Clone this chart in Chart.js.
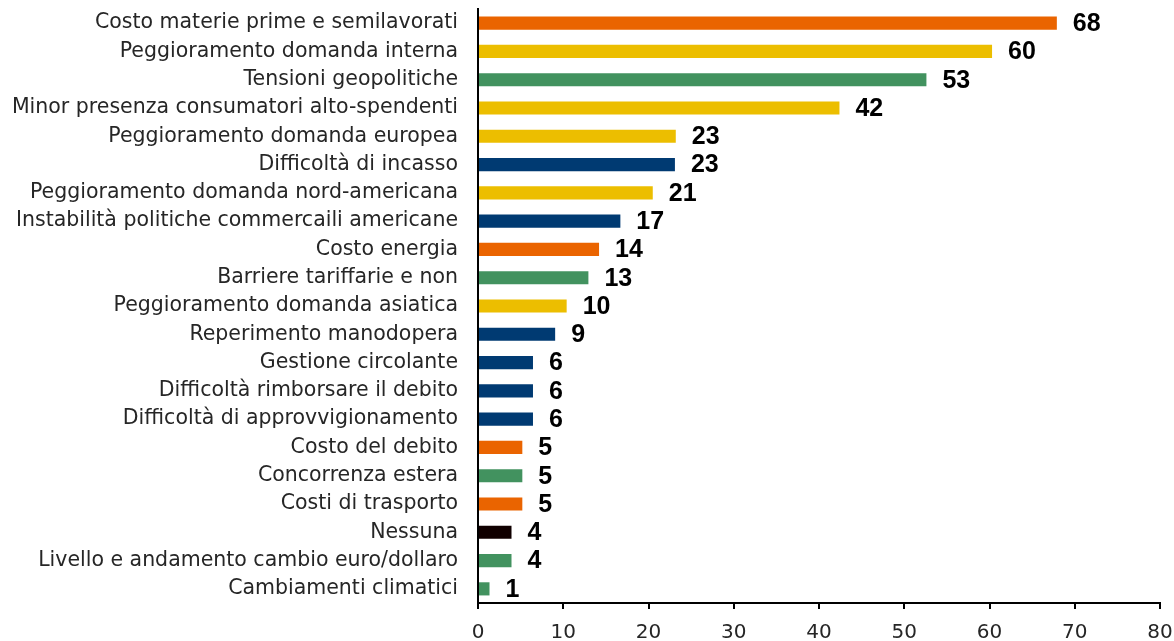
<!DOCTYPE html>
<html>
<head>
<meta charset="utf-8">
<script src="https://cdn.jsdelivr.net/npm/chart.js@4"></script>
<style>
    html, body { margin: 0; padding: 0; background: #ffffff; }
    #wrap { width: 1174px; height: 641px; }
</style>
</head>
<body>
<div id="wrap"><canvas id="problemsChart"></canvas></div>
<script>
const categories = [
    'Costo materie prime e semilavorati',
    'Peggioramento domanda interna',
    'Tensioni geopolitiche',
    'Minor presenza consumatori alto-spendenti',
    'Peggioramento domanda europea',
    'Difficoltà di incasso',
    'Peggioramento domanda nord-americana',
    'Instabilità politiche commercaili americane',
    'Costo energia',
    'Barriere tariffarie e non',
    'Peggioramento domanda asiatica',
    'Reperimento manodopera',
    'Gestione circolante',
    'Difficoltà rimborsare il debito',
    'Difficoltà di approvvigionamento',
    'Costo del debito',
    'Concorrenza estera',
    'Costi di trasporto',
    'Nessuna',
    'Livello e andamento cambio euro/dollaro',
    'Cambiamenti climatici'
];

const values = [67.9, 60.3, 52.6, 42.4, 23.2, 23.1, 20.5, 16.7, 14.2, 12.95, 10.4, 9.05, 6.45, 6.45, 6.45, 5.2, 5.2, 5.2, 3.93, 3.93, 1.35];

const groups = ['costs', 'demand', 'trade', 'demand', 'demand', 'finance', 'demand', 'finance', 'costs', 'trade', 'demand',
    'finance', 'finance', 'finance', 'finance', 'costs', 'trade', 'costs', 'none', 'trade', 'trade'];

const groupColors = {
    costs: 'rgb(234, 100, 0)',
    demand: 'rgb(236, 190, 0)',
    trade: 'rgb(66, 146, 95)',
    finance: 'rgb(0, 58, 114)',
    none: 'rgb(16, 0, 0)'
};

const xTicks = [0, 10, 20, 30, 40, 50, 60, 70, 80];

if (document.readyState == 'loading') {
    document.addEventListener('DOMContentLoaded', ready);
} else {
    ready();
}

function ready() {
    createProblemsChart();
}

function createProblemsChart() {
    const ctxEl = document.getElementById('problemsChart');

    // value labels at the end of each bar
    const barValueLabels = {
        id: 'barValueLabels',
        afterDatasetsDraw(chart) {
            const { ctx, data } = chart;
            ctx.save();
            ctx.font = 'bold 25px "Liberation Sans", Arial, sans-serif';
            ctx.fillStyle = '#000000';
            ctx.textAlign = 'left';
            ctx.textBaseline = 'middle';
            chart.getDatasetMeta(0).data.forEach((bar, index) => {
                ctx.fillText(Math.round(data.datasets[0].data[index]), bar.x + 16, bar.y + 1);
            });
            ctx.restore();
        }
    };

    const data = {
        labels: categories,
        datasets: [{
            data: values,
            backgroundColor: groups.map(g => groupColors[g]),
            borderWidth: 0,
            barPercentage: 0.93,
            categoryPercentage: 0.5
        }]
    };

    const config = {
        type: 'bar',
        data,
        options: {
            responsive: true,
            maintainAspectRatio: false,
            animation: false,
            indexAxis: 'y',
            layout: {
                padding: { top: 9, right: 14, left: 0, bottom: 0 }
            },
            plugins: {
                legend: { display: false },
                tooltip: { enabled: false }
            },
            scales: {
                x: {
                    min: 0,
                    max: 80,
                    afterBuildTicks(scale) {
                        scale.ticks = xTicks.map(v => ({ value: v }));
                    },
                    afterFit(scale) {
                        scale.height = 38;
                        scale.paddingLeft = 0;
                        scale.paddingRight = 0;
                    },
                    grid: {
                        display: true,
                        drawOnChartArea: false,
                        drawTicks: true,
                        tickLength: 6,
                        color: '#000000',
                        lineWidth: 2
                    },
                    border: {
                        display: true,
                        color: '#000000',
                        width: 2
                    },
                    ticks: {
                        color: '#262626',
                        padding: 12,
                        maxRotation: 0,
                        font: { family: '"DejaVu Sans", sans-serif', size: 20 }
                    }
                },
                y: {
                    afterFit(scale) {
                        scale.width = 478;
                        scale.paddingTop = 0;
                        scale.paddingBottom = 0;
                    },
                    grid: {
                        display: false,
                        drawTicks: false
                    },
                    border: {
                        display: true,
                        color: '#000000',
                        width: 2
                    },
                    ticks: {
                        color: '#262626',
                        padding: 20,
                        autoSkip: false,
                        font: { family: '"DejaVu Sans", sans-serif', size: 20.5 }
                    }
                }
            }
        },
        plugins: [barValueLabels]
    };

    const chart = new Chart(ctxEl, config);
}
</script>
</body>
</html>
